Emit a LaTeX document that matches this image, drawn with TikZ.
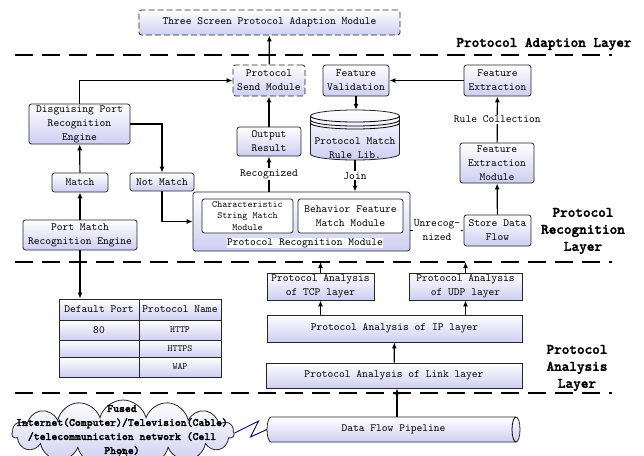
\documentclass[tikz,border=0pt]{standalone}
\usepackage{fontspec}
\setmainfont{lmmono10-regular}[Extension=.otf, BoldFont=lmmonolt10-bold, BoldFeatures={FakeBold=2}]
\usepackage{tikz}
\usetikzlibrary{shapes.symbols,arrows.meta}
\definecolor{lav}{RGB}{206,206,242}

\begin{document}
\begin{tikzpicture}[x=1pt,y=-1pt,
    box/.style={draw=black!85, line width=0.8pt, rounded corners=2.5pt, top color=white, bottom color=lav,
      align=center, inner sep=1pt, font=\fontsize{11}{14}\selectfont},
    sqbox/.style={box, rounded corners=0pt},
    dbox/.style={box, dash pattern=on 6pt off 3pt},
    txt/.style={align=center, inner sep=1pt, font=\fontsize{11}{14}\selectfont},
    lbl/.style={align=center, font=\bfseries\fontsize{14.5}{17}\selectfont},
    layer/.style={line width=1.3pt, dash pattern=on 18pt off 9pt},
    arr/.style={line width=1.2pt, -{Latex[length=6pt,width=5pt]}},
    ln/.style={line width=1.2pt}]
  \useasboundingbox (0,0) rectangle (644,455);

  % Layer lines
  \coordinate (l1w) at (15,55);  \coordinate (l1e) at (612,55);
  \coordinate (l2w) at (15,262); \coordinate (l2e) at (612,262);
  \coordinate (l3w) at (15,393); \coordinate (l3e) at (612,393);
  \draw[layer] (l1w) -- (l1e);
  \draw[layer] (l2w) -- (l2e);
  \draw[layer] (l3w) -- (l3e);
  \node[lbl] (ladapt) at (544,44) {Protocol Adaption Layer};
  \node[lbl] (lrecog) at (583,231) {Protocol\\Recognition\\Layer};
  \node[lbl] (lanal) at (577,368) {Protocol\\Analysis\\Layer};

  % Adaption layer
  \node[dbox, minimum width=261pt, minimum height=25pt] (top) at (269.5,22.5) {Three Screen Protocol Adaption Module};

  % Recognition layer
  \node[dbox, minimum width=72pt, minimum height=31pt] (send) at (269,80.5) {Protocol\\Send Module};
  \node[box, minimum width=66pt, minimum height=31pt] (valid) at (356,80.5) {Feature\\Validation};
  \node[box, minimum width=67pt, minimum height=31pt] (fext) at (497.5,80.5) {Feature\\Extraction};
  \node[box, minimum width=64pt, minimum height=29pt] (output) at (269,141.5) {Output\\Result};
  \node[box, minimum width=101pt, minimum height=40pt] (dpre) at (79.5,124) {Disguising Port\\Recognition\\Engine};
  \node[box, minimum width=56pt, minimum height=19pt] (match) at (80,182.5) {Match};
  \node[box, minimum width=64pt, minimum height=18pt] (notm) at (162,182) {Not Match};
  \node[box, minimum width=114pt, minimum height=30pt] (pmre) at (80,235) {Port Match\\Recognition Engine};
  \node[box, minimum width=217pt, minimum height=59pt] (prm) at (301.5,221.5) {};
  \node[box, top color=white, bottom color=white, minimum width=91pt, minimum height=34pt,
    font=\fontsize{9.6}{11.5}\selectfont] (csm) at (247.5,216) {Characteristic\\String Match\\Module};
  \node[box, top color=white, bottom color=white, minimum width=105pt, minimum height=34pt] (bfm) at (350.5,216) {Behavior Feature\\Match Module};
  \node[txt, fill=white, inner sep=0pt] (prmtext) at (305,243) {Protocol Recognition Module};
  \node[box, minimum width=67pt, minimum height=31pt] (store) at (497.5,230.5) {Store Data\\Flow};
  \node[box, minimum width=74pt, minimum height=40pt] (fem) at (497,163) {Feature\\Extraction\\Module};

  % Rule library
  \node[minimum width=89pt, minimum height=50pt] (lib) at (355,135) {};
  \path[draw=black!85, line width=0.8pt, top color=white, bottom color=lav]
    (310.5,116) -- (310.5,154) arc[start angle=180, end angle=360, x radius=44.5pt, y radius=6pt]
    -- (399.5,116) arc[start angle=0, end angle=180, x radius=44.5pt, y radius=6pt] -- cycle;
  \draw[line width=0.8pt] (310.5,116) arc[start angle=180, end angle=360, x radius=44.5pt, y radius=6pt];
  \draw[line width=0.8pt] (310.5,120) arc[start angle=180, end angle=360, x radius=44.5pt, y radius=6pt];
  \draw[line width=0.8pt] (310.5,123) arc[start angle=180, end angle=360, x radius=44.5pt, y radius=6pt];
  \node[txt] (libtext) at (355,148) {Protocol Match\\Rule Lib.};

  % Default port table
  \node[sqbox, minimum width=80pt, minimum height=21pt] (t11) at (99,309.5) {Default Port};
  \node[sqbox, minimum width=82pt, minimum height=21pt] (t12) at (180,309.5) {Protocol Name};
  \node[sqbox, minimum width=80pt, minimum height=20pt] (t21) at (99,330) {80};
  \node[sqbox, minimum width=82pt, minimum height=20pt, font=\fontsize{9.5}{10}\selectfont] (t22) at (180,330) {HTTP};
  \node[sqbox, minimum width=80pt, minimum height=17pt] (t31) at (99,348.5) {};
  \node[sqbox, minimum width=82pt, minimum height=17pt, font=\fontsize{9.5}{10}\selectfont] (t32) at (180,348.5) {HTTPS};
  \node[sqbox, minimum width=80pt, minimum height=20pt] (t41) at (99,367) {};
  \node[sqbox, minimum width=82pt, minimum height=20pt, font=\fontsize{9.5}{10}\selectfont] (t42) at (180,367) {WAP};

  % Analysis layer
  \node[sqbox, minimum width=107pt, minimum height=27pt] (tcp) at (320.5,286.5) {Protocol Analysis\\of TCP layer};
  \node[sqbox, minimum width=113pt, minimum height=27pt] (udp) at (465.5,286.5) {Protocol Analysis\\of UDP layer};
  \node[sqbox, minimum width=255pt, minimum height=27pt] (ip) at (394.5,328.5) {Protocol Analysis of IP layer};
  \node[sqbox, minimum width=256pt, minimum height=25pt] (link) at (394,375.5) {Protocol Analysis of Link layer};

  % Data flow pipeline
  \path[draw=black!85, line width=0.8pt, top color=white, bottom color=lav]
    (271,417) -- (516,417) arc[start angle=90, end angle=-90, x radius=4pt, y radius=12.5pt]
    -- (271,442) arc[start angle=270, end angle=90, x radius=4pt, y radius=12.5pt] -- cycle;
  \draw[line width=0.8pt] (516,417) arc[start angle=90, end angle=270, x radius=4pt, y radius=12.5pt];
  \node[txt, minimum width=253pt, minimum height=25pt] (pipe) at (393.5,429.5) {Data Flow Pipeline};

  % Cloud
  \node[cloud, cloud puffs=15, cloud ignores aspect, draw=black!85, line width=0.8pt, top color=white, bottom color=lav,
    minimum width=222pt, minimum height=66pt] (cloud) at (123,433) {};
  \node[align=center, font=\bfseries\fontsize{11.2}{14}\selectfont] (cloudtext) at (122,430)
    {Fused\\Internet(Computer)/Television(Cable)\\/telecommunication network (Cell\\Phone)};

  % Connectors
  \draw[arr] (send) -- (top);
  \draw[arr] (dpre.north) |- (send.west);
  \draw[arr] (dpre.east) -| (notm.north);
  \draw[arr] (notm.south) |- (prm.west);
  \draw[arr] (match) -- (dpre);
  \draw[arr] (pmre) -- (match);
  \draw[arr] (pmre.south) -- (pmre.south |- t11.north);
  \draw[arr] (output) -- (send);
  \draw[arr] (output.south |- prm.north) -- node[txt, fill=white] (recog) {Recognized} (output.south);
  \draw[arr] (lib.south) -- node[txt, fill=white] (join) {Join} (lib.south |- prm.north);
  \draw[arr] (valid.south) -- (valid.south |- lib.north);
  \draw[arr] (fext) -- (valid);
  \draw[arr] (prm.east |- store.west) -- node[txt, fill=white] (unrec) {Unrecog-\\nized} (store.west);
  \draw[arr] (store) -- (fem);
  \draw[arr] (fem) -- node[txt, fill=white] (rulec) {Rule Collection} (fext);
  \draw[arr] (tcp.north) -- (tcp.north |- l2w);
  \draw[arr] (udp.north) -- (udp.north |- l2w);
  \draw[arr] (ip.north -| tcp.south) -- (tcp.south);
  \draw[arr] (ip.north -| udp.south) -- (udp.south);
  \draw[arr] (link) -- (ip);
  \draw[arr] (pipe.north -| 397,0) -- (link.south -| 397,0);
  \draw[blue!60!black, line width=0.9pt] (cloud.east) -- ++(24,-12) -- ++(-8,16) -- (pipe.west);
\end{tikzpicture}
\end{document}
